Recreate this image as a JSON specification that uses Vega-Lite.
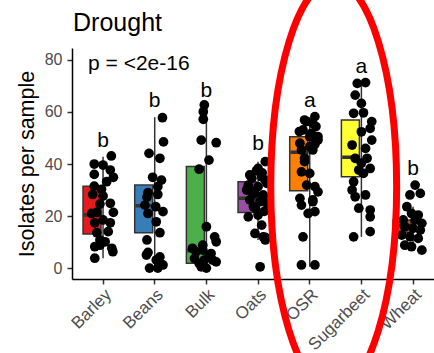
{
  "$schema": "https://vega.github.io/schema/vega-lite/v6.json",
  "autosize": {"type": "none"},
  "padding": {"left": 72, "top": 48, "right": 0, "bottom": 74},
  "width": 362,
  "height": 231,
  "config": {"view": {"stroke": null}, "font": "Liberation Sans", "axis": {"grid": false}},
  "datasets": {
    "boxes": [
      {"c": "Barley", "lo": 3.8, "q1": 13.1, "med": 20.4, "q3": 31.5, "hi": 42.8, "letter": "b", "ly": 46.7},
      {"c": "Beans", "lo": 0, "q1": 13.6, "med": 24.0, "q3": 31.9, "hi": 58.0, "letter": "b", "ly": 62.0},
      {"c": "Bulk", "lo": 0, "q1": 1.9, "med": 6.7, "q3": 39.0, "hi": 63.5, "letter": "b", "ly": 65.9},
      {"c": "Oats", "lo": 10.8, "q1": 21.4, "med": 26.8, "q3": 33.2, "hi": 40.9, "letter": "b", "ly": 45.4},
      {"c": "OSR", "lo": 0.5, "q1": 29.7, "med": 44.5, "q3": 50.5, "hi": 58.0, "letter": "a", "ly": 62.0},
      {"c": "Sugarbeet", "lo": 12.0, "q1": 35.1, "med": 42.6, "q3": 56.9, "hi": 71.5, "letter": "a", "ly": 74.9},
      {"c": "Wheat", "lo": 6.9, "q1": 13.7, "med": 16.3, "q3": 18.5, "hi": 23.6, "letter": "b", "ly": 35.8}
    ],
    "pts": [
      {"c": "Barley", "v": 43.1, "j": 0.16}, {"c": "Barley", "v": 40.0, "j": -0.17}, {"c": "Barley", "v": 39.6, "j": 0.0}, {"c": "Barley", "v": 37.7, "j": 0.14},
      {"c": "Barley", "v": 36.0, "j": -0.17}, {"c": "Barley", "v": 34.9, "j": 0.2}, {"c": "Barley", "v": 33.2, "j": 0.07}, {"c": "Barley", "v": 31.5, "j": -0.17},
      {"c": "Barley", "v": 30.3, "j": -0.03}, {"c": "Barley", "v": 28.3, "j": -0.2}, {"c": "Barley", "v": 27.7, "j": 0.0}, {"c": "Barley", "v": 24.9, "j": 0.14},
      {"c": "Barley", "v": 24.6, "j": -0.06}, {"c": "Barley", "v": 21.4, "j": -0.12}, {"c": "Barley", "v": 21.4, "j": 0.2}, {"c": "Barley", "v": 21.0, "j": -0.22},
      {"c": "Barley", "v": 18.5, "j": 0.0}, {"c": "Barley", "v": 17.4, "j": -0.16}, {"c": "Barley", "v": 17.4, "j": 0.14}, {"c": "Barley", "v": 14.0, "j": 0.1},
      {"c": "Barley", "v": 13.6, "j": -0.12}, {"c": "Barley", "v": 10.8, "j": -0.06}, {"c": "Barley", "v": 10.1, "j": 0.04}, {"c": "Barley", "v": 8.8, "j": -0.06},
      {"c": "Barley", "v": 8.2, "j": -0.16}, {"c": "Barley", "v": 7.6, "j": 0.17}, {"c": "Barley", "v": 6.3, "j": 0.19}, {"c": "Barley", "v": 3.8, "j": -0.16},
      {"c": "Beans", "v": 57.8, "j": 0.15}, {"c": "Beans", "v": 48.5, "j": 0.17}, {"c": "Beans", "v": 44.1, "j": -0.11}, {"c": "Beans", "v": 42.2, "j": 0.1},
      {"c": "Beans", "v": 34.9, "j": -0.04}, {"c": "Beans", "v": 33.8, "j": 0.13}, {"c": "Beans", "v": 31.3, "j": 0.06}, {"c": "Beans", "v": 29.0, "j": -0.13},
      {"c": "Beans", "v": 28.3, "j": 0.06}, {"c": "Beans", "v": 27.2, "j": -0.15}, {"c": "Beans", "v": 24.2, "j": -0.19}, {"c": "Beans", "v": 23.6, "j": 0.02},
      {"c": "Beans", "v": 21.0, "j": -0.13}, {"c": "Beans", "v": 21.7, "j": 0.16}, {"c": "Beans", "v": 17.8, "j": 0.03}, {"c": "Beans", "v": 13.6, "j": 0.1},
      {"c": "Beans", "v": 10.8, "j": -0.15}, {"c": "Beans", "v": 6.0, "j": -0.13}, {"c": "Beans", "v": 5.0, "j": -0.16}, {"c": "Beans", "v": 4.3, "j": 0.1},
      {"c": "Beans", "v": 3.1, "j": 0.03}, {"c": "Beans", "v": 1.2, "j": 0.16}, {"c": "Beans", "v": 0.0, "j": -0.1}, {"c": "Beans", "v": 0.0, "j": 0.06},
      {"c": "Bulk", "v": 62.7, "j": -0.04}, {"c": "Bulk", "v": 60.1, "j": -0.06}, {"c": "Bulk", "v": 57.2, "j": -0.06}, {"c": "Bulk", "v": 49.2, "j": -0.1},
      {"c": "Bulk", "v": 48.2, "j": 0.19}, {"c": "Bulk", "v": 41.5, "j": 0.05}, {"c": "Bulk", "v": 38.0, "j": -0.14}, {"c": "Bulk", "v": 15.9, "j": 0.0},
      {"c": "Bulk", "v": 12.0, "j": 0.16}, {"c": "Bulk", "v": 10.1, "j": 0.19}, {"c": "Bulk", "v": 8.8, "j": -0.07}, {"c": "Bulk", "v": 7.6, "j": -0.27},
      {"c": "Bulk", "v": 6.9, "j": -0.07}, {"c": "Bulk", "v": 6.3, "j": -0.2}, {"c": "Bulk", "v": 5.6, "j": 0.09}, {"c": "Bulk", "v": 5.0, "j": 0.06},
      {"c": "Bulk", "v": 3.7, "j": -0.23}, {"c": "Bulk", "v": 3.1, "j": -0.04}, {"c": "Bulk", "v": 3.1, "j": 0.12}, {"c": "Bulk", "v": 2.4, "j": 0.19},
      {"c": "Bulk", "v": 1.8, "j": -0.14}, {"c": "Bulk", "v": 0.5, "j": -0.1}, {"c": "Bulk", "v": 0.0, "j": 0.0},
      {"c": "Oats", "v": 40.9, "j": 0.14}, {"c": "Oats", "v": 38.3, "j": 0.0}, {"c": "Oats", "v": 37.4, "j": -0.03}, {"c": "Oats", "v": 35.8, "j": -0.16},
      {"c": "Oats", "v": 35.1, "j": 0.07}, {"c": "Oats", "v": 34.5, "j": -0.12}, {"c": "Oats", "v": 33.8, "j": 0.14}, {"c": "Oats", "v": 32.6, "j": 0.17},
      {"c": "Oats", "v": 31.9, "j": -0.19}, {"c": "Oats", "v": 31.3, "j": 0.0}, {"c": "Oats", "v": 30.0, "j": -0.22}, {"c": "Oats", "v": 28.7, "j": -0.06},
      {"c": "Oats", "v": 28.1, "j": 0.1}, {"c": "Oats", "v": 27.4, "j": 0.1}, {"c": "Oats", "v": 26.2, "j": -0.16}, {"c": "Oats", "v": 25.5, "j": 0.04},
      {"c": "Oats", "v": 24.9, "j": 0.17}, {"c": "Oats", "v": 23.6, "j": -0.09}, {"c": "Oats", "v": 23.0, "j": -0.05}, {"c": "Oats", "v": 20.4, "j": 0.0},
      {"c": "Oats", "v": 19.7, "j": -0.19}, {"c": "Oats", "v": 16.5, "j": 0.07}, {"c": "Oats", "v": 13.3, "j": -0.06}, {"c": "Oats", "v": 12.0, "j": 0.1},
      {"c": "Oats", "v": 11.8, "j": 0.14}, {"c": "Oats", "v": 10.8, "j": 0.14}, {"c": "Oats", "v": 0.5, "j": 0.04},
      {"c": "Oats", "v": 36.6, "j": 0.08}, {"c": "Oats", "v": 29.4, "j": -0.12}, {"c": "Oats", "v": 21.8, "j": 0.12},
      {"c": "OSR", "v": 58.2, "j": 0.1}, {"c": "OSR", "v": 56.9, "j": -0.1}, {"c": "OSR", "v": 56.3, "j": -0.06}, {"c": "OSR", "v": 55.6, "j": 0.06},
      {"c": "OSR", "v": 53.1, "j": -0.13}, {"c": "OSR", "v": 51.8, "j": 0.03}, {"c": "OSR", "v": 50.5, "j": 0.16}, {"c": "OSR", "v": 50.5, "j": 0.0},
      {"c": "OSR", "v": 49.2, "j": 0.16}, {"c": "OSR", "v": 48.0, "j": -0.19}, {"c": "OSR", "v": 46.7, "j": 0.0}, {"c": "OSR", "v": 45.4, "j": -0.16},
      {"c": "OSR", "v": 45.4, "j": 0.06}, {"c": "OSR", "v": 42.2, "j": -0.1}, {"c": "OSR", "v": 40.9, "j": -0.1}, {"c": "OSR", "v": 37.0, "j": -0.16},
      {"c": "OSR", "v": 36.4, "j": 0.0}, {"c": "OSR", "v": 31.9, "j": -0.06}, {"c": "OSR", "v": 31.3, "j": 0.1}, {"c": "OSR", "v": 29.3, "j": 0.16},
      {"c": "OSR", "v": 26.8, "j": -0.19}, {"c": "OSR", "v": 26.2, "j": 0.06}, {"c": "OSR", "v": 25.5, "j": 0.06}, {"c": "OSR", "v": 24.2, "j": -0.16},
      {"c": "OSR", "v": 21.7, "j": 0.1}, {"c": "OSR", "v": 21.0, "j": -0.03}, {"c": "OSR", "v": 12.0, "j": -0.13}, {"c": "OSR", "v": 1.2, "j": -0.16},
      {"c": "OSR", "v": 1.2, "j": 0.1}, {"c": "OSR", "v": 54.4, "j": 0.12}, {"c": "OSR", "v": 52.5, "j": -0.2}, {"c": "OSR", "v": 47.6, "j": 0.1},
      {"c": "Sugarbeet", "v": 71.0, "j": -0.08}, {"c": "Sugarbeet", "v": 71.3, "j": 0.08}, {"c": "Sugarbeet", "v": 66.5, "j": -0.12}, {"c": "Sugarbeet", "v": 63.3, "j": 0.0},
      {"c": "Sugarbeet", "v": 59.5, "j": -0.15}, {"c": "Sugarbeet", "v": 59.7, "j": 0.04}, {"c": "Sugarbeet", "v": 56.3, "j": 0.2}, {"c": "Sugarbeet", "v": 53.7, "j": 0.17},
      {"c": "Sugarbeet", "v": 52.4, "j": 0.0}, {"c": "Sugarbeet", "v": 49.2, "j": 0.2}, {"c": "Sugarbeet", "v": 47.3, "j": -0.18}, {"c": "Sugarbeet", "v": 46.0, "j": 0.08},
      {"c": "Sugarbeet", "v": 42.2, "j": -0.12}, {"c": "Sugarbeet", "v": 42.2, "j": 0.11}, {"c": "Sugarbeet", "v": 40.3, "j": 0.0}, {"c": "Sugarbeet", "v": 38.3, "j": 0.17},
      {"c": "Sugarbeet", "v": 37.7, "j": -0.05}, {"c": "Sugarbeet", "v": 36.4, "j": 0.04}, {"c": "Sugarbeet", "v": 33.2, "j": -0.15}, {"c": "Sugarbeet", "v": 30.0, "j": -0.18},
      {"c": "Sugarbeet", "v": 28.1, "j": 0.08}, {"c": "Sugarbeet", "v": 27.4, "j": -0.12}, {"c": "Sugarbeet", "v": 23.0, "j": -0.05}, {"c": "Sugarbeet", "v": 22.3, "j": 0.17},
      {"c": "Sugarbeet", "v": 19.7, "j": 0.17}, {"c": "Sugarbeet", "v": 14.0, "j": 0.17}, {"c": "Sugarbeet", "v": 12.0, "j": -0.15},
      {"c": "Wheat", "v": 31.9, "j": 0.04}, {"c": "Wheat", "v": 28.1, "j": -0.06}, {"c": "Wheat", "v": 28.7, "j": 0.14}, {"c": "Wheat", "v": 23.6, "j": -0.12},
      {"c": "Wheat", "v": 21.0, "j": -0.03}, {"c": "Wheat", "v": 20.4, "j": 0.1}, {"c": "Wheat", "v": 18.5, "j": -0.19}, {"c": "Wheat", "v": 18.5, "j": 0.04},
      {"c": "Wheat", "v": 17.2, "j": 0.17}, {"c": "Wheat", "v": 15.9, "j": -0.16}, {"c": "Wheat", "v": 15.3, "j": 0.0}, {"c": "Wheat", "v": 14.6, "j": 0.14},
      {"c": "Wheat", "v": 12.7, "j": -0.22}, {"c": "Wheat", "v": 12.0, "j": -0.06}, {"c": "Wheat", "v": 11.4, "j": 0.1}, {"c": "Wheat", "v": 8.8, "j": -0.16},
      {"c": "Wheat", "v": 8.2, "j": -0.03}, {"c": "Wheat", "v": 6.9, "j": 0.17}
    ],
    "notes": [
      {"c": "Barley", "v": 76.2, "t": "p = <2e-16", "kind": "p"},
      {"c": "Barley", "v": 91.2, "t": "Drought", "kind": "title"}
    ],
    "circle": [{"c": "OSR", "v": 31.5}]
  },
  "encoding": {
    "x": {
      "field": "c", "type": "nominal",
      "sort": ["Barley", "Beans", "Bulk", "Oats", "OSR", "Sugarbeet", "Wheat"],
      "scale": {"paddingInner": 0.2, "paddingOuter": 0.103, "align": 0.975},
      "axis": {"title": null, "labelAngle": -45, "labelAlign": "right", "labelBaseline": "top", "labelFontSize": 17, "labelColor": "#4D4D4D", "labelPadding": 2, "tickSize": 5, "tickColor": "#333333", "tickWidth": 1.5, "domainColor": "#000000", "domainWidth": 1.5}
    }
  },
  "layer": [
    {
      "data": {"name": "boxes"},
      "mark": {"type": "rule", "color": "#333333", "strokeWidth": 1.5},
      "encoding": {
        "y": {"field": "lo", "type": "quantitative", "title": "Isolates per sample",
          "scale": {"domain": [-4.2, 84.6], "nice": false, "zero": false},
          "axis": {"values": [0, 20, 40, 60, 80], "title": "Isolates per sample", "titleFontSize": 21.5, "titleFontWeight": "normal", "titleColor": "#000000", "titlePadding": 6, "labelFontSize": 16, "labelColor": "#4D4D4D", "labelPadding": 5, "tickSize": 5, "tickColor": "#333333", "tickWidth": 1.5, "domainColor": "#000000", "domainWidth": 1.5}},
        "y2": {"field": "hi"}
      }
    },
    {
      "data": {"name": "boxes"},
      "mark": {"type": "bar", "width": {"band": 0.968}, "stroke": "#333333", "strokeWidth": 1.5},
      "encoding": {
        "y": {"field": "q3", "type": "quantitative", "title": "Isolates per sample"},
        "y2": {"field": "q1"},
        "color": {"field": "c", "type": "nominal", "legend": null,
          "scale": {"domain": ["Barley", "Beans", "Bulk", "Oats", "OSR", "Sugarbeet", "Wheat"], "range": ["#E41A1C", "#377EB8", "#4DAF4A", "#984EA3", "#FF7F00", "#FFFF33", "#A65628"]}}
      }
    },
    {
      "data": {"name": "boxes"},
      "mark": {"type": "bar", "width": {"band": 0.93}, "stroke": "#333333", "strokeWidth": 3.5, "fill": null},
      "encoding": {
        "y": {"field": "med", "type": "quantitative", "title": "Isolates per sample"},
        "y2": {"field": "med"}
      }
    },
    {
      "data": {"name": "pts"},
      "mark": {"type": "circle", "size": 95, "opacity": 1, "color": "#000000"},
      "encoding": {
        "xOffset": {"field": "j", "type": "quantitative", "scale": {"domain": [-0.4, 0.4]}},
        "y": {"field": "v", "type": "quantitative", "title": "Isolates per sample"}
      }
    },
    {
      "data": {"name": "boxes"},
      "mark": {"type": "text", "fontSize": 21, "baseline": "alphabetic", "align": "center", "color": "#000000"},
      "encoding": {"y": {"field": "ly", "type": "quantitative", "title": "Isolates per sample"}, "text": {"field": "letter"}}
    },
    {
      "data": {"name": "notes"},
      "transform": [{"filter": "datum.kind === 'p'"}],
      "mark": {"type": "text", "fontSize": 21, "baseline": "alphabetic", "align": "left", "dx": -15, "color": "#000000"},
      "encoding": {"y": {"field": "v", "type": "quantitative", "title": "Isolates per sample"}, "text": {"field": "t"}}
    },
    {
      "data": {"name": "notes"},
      "transform": [{"filter": "datum.kind === 'title'"}],
      "mark": {"type": "text", "fontSize": 25, "baseline": "alphabetic", "align": "left", "dx": -30, "color": "#000000"},
      "encoding": {"y": {"field": "v", "type": "quantitative", "title": "Isolates per sample"}, "text": {"field": "t"}}
    },
    {
      "data": {"name": "circle"},
      "mark": {"type": "point", "shape": "M -0.19 0 C -0.19 -0.5523 -0.0526 -1 0.117 -1 C 0.2866 -1 0.424 -0.5523 0.424 0 C 0.424 0.5523 0.2866 1 0.117 1 C -0.0526 1 -0.19 0.5523 -0.19 0 Z", "size": 168100, "filled": false, "color": "#FF0000", "strokeWidth": 7, "opacity": 1},
      "encoding": {"y": {"field": "v", "type": "quantitative", "title": "Isolates per sample"}}
    }
  ]
}
